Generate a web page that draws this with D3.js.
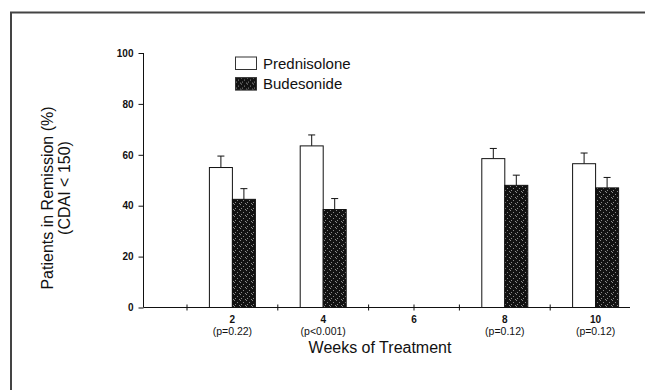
<!DOCTYPE html>
<html>
<head>
<meta charset="utf-8">
<script src="https://cdn.jsdelivr.net/npm/d3@7"></script>
<style>
  html, body { margin: 0; padding: 0; background: #fff; overflow: hidden; }
  svg { display: block; }
  text { font-family: "Liberation Sans", Arial, sans-serif; fill: #111; }
</style>
</head>
<body>
<svg id="chart" width="645" height="390"></svg>
<script>
// ---- data ----
const weeks = ["2", "4", "6", "8", "10"];
const pLabels = ["(p=0.22)", "(p<0.001)", "", "(p=0.12)", "(p=0.12)"];
const prednisolone = [55, 63.5, null, 58.5, 56.5];
const prednisoloneErr = [4.5, 4.3, null, 4.0, 4.2];
const budesonide = [42.5, 38.5, null, 48, 47];
const budesonideErr = [4.2, 4.3, null, 4.0, 4.1];
const yTicks = [0, 20, 40, 60, 80, 100];
const seriesNames = ["Prednisolone", "Budesonide"];

const svg = d3.select("#chart");

// stipple pattern for the dark bars
const defs = svg.append("defs");
const pat = defs.append("pattern").attr("id", "stipple")
  .attr("width", 6).attr("height", 6).attr("patternUnits", "userSpaceOnUse");
pat.append("rect").attr("width", 6).attr("height", 6).attr("fill", "#121212");
[[0,0],[3,2],[1,4],[5,5]].forEach(([dx,dy]) =>
  pat.append("rect").attr("x", dx).attr("y", dy).attr("width", 1).attr("height", 1).attr("fill", "#8a8a8a"));

// frame (open on right / bottom)
svg.append("path").attr("d", "M11,392 V12.5 H647")
  .attr("fill", "none").attr("stroke", "#444").attr("stroke-width", 2);

// scales
const x = d3.scaleBand().domain(weeks).range([187, 641]).padding(0);
const y = d3.scaleLinear().domain([0, 100]).range([307.5, 53]);
const axisX0 = 143.5, axisX1 = 630;
const barW = 23;

// y axis
const yAxis = svg.append("g").attr("transform", `translate(${axisX0},0)`)
  .call(d3.axisLeft(y).tickValues(yTicks).tickSize(5).tickPadding(5).tickFormat(d3.format("d")));
yAxis.select(".domain").attr("stroke", "#111").attr("d", `M0,${y(100)}V${y(0)}`);
yAxis.selectAll(".tick line").attr("stroke", "#111");
yAxis.selectAll(".tick text").style("font-size", "10px").style("font-weight", "bold")
  .style("font-family", "Liberation Sans, Arial, sans-serif").attr("fill", "#111");

// x axis baseline
svg.append("line").attr("x1", axisX0).attr("x2", axisX1)
  .attr("y1", y(0)).attr("y2", y(0)).attr("stroke", "#111").attr("stroke-width", 1.2);

// boundary ticks
const bounds = weeks.map(w => x(w)).filter(v => v < axisX1);
svg.selectAll(".btick").data(bounds).join("line")
  .attr("x1", d => d).attr("x2", d => d)
  .attr("y1", y(0) - 3).attr("y2", y(0) + 3)
  .attr("stroke", "#111");

// x axis labels via axisBottom
const xAxis = svg.append("g").attr("transform", `translate(0,${y(0)})`)
  .call(d3.axisBottom(x).tickSize(0).tickPadding(8));
xAxis.select(".domain").remove();
xAxis.selectAll(".tick text").style("font-size", "10px").style("font-weight", "bold")
  .style("font-family", "Liberation Sans, Arial, sans-serif").attr("fill", "#111");
xAxis.selectAll(".tick").append("text")
  .attr("y", 20).attr("dy", "0.71em").attr("text-anchor", "middle")
  .style("font-size", "10.5px").style("font-family", "Liberation Sans, Arial, sans-serif")
  .attr("fill", "#111")
  .text((d, i) => pLabels[i]);

// center ticks for empty categories
svg.selectAll(".ctick").data(weeks.filter((w, i) => prednisolone[i] == null)).join("line")
  .attr("x1", d => x(d) + x.bandwidth() / 2).attr("x2", d => x(d) + x.bandwidth() / 2)
  .attr("y1", y(0) - 3).attr("y2", y(0) + 3).attr("stroke", "#111");

// bars
const rows = weeks.map((w, i) => ({ w, p: prednisolone[i], pe: prednisoloneErr[i], b: budesonide[i], be: budesonideErr[i] }))
  .filter(r => r.p != null);
const cx = w => x(w) + x.bandwidth() / 2;

function errBar(g, xc, v, e) {
  g.append("line").attr("x1", xc).attr("x2", xc).attr("y1", y(v)).attr("y2", y(v + e))
    .attr("stroke", "#111").attr("stroke-width", 1);
  g.append("line").attr("x1", xc - 3.5).attr("x2", xc + 3.5).attr("y1", y(v + e)).attr("y2", y(v + e))
    .attr("stroke", "#111").attr("stroke-width", 1);
}

const gBars = svg.append("g");
rows.forEach(r => {
  const c = cx(r.w);
  errBar(gBars, c - barW / 2, r.p, r.pe);
  errBar(gBars, c + barW / 2, r.b, r.be);
  gBars.append("rect").attr("x", c - barW).attr("y", y(r.p)).attr("width", barW).attr("height", y(0) - y(r.p))
    .attr("fill", "#fff").attr("stroke", "#111").attr("stroke-width", 1);
  gBars.append("rect").attr("x", c).attr("y", y(r.b)).attr("width", barW).attr("height", y(0) - y(r.b))
    .attr("fill", "url(#stipple)").attr("stroke", "#111").attr("stroke-width", 1);
});

// legend
const leg = svg.append("g").attr("transform", "translate(235,57)");
seriesNames.forEach((name, i) => {
  const g = leg.append("g").attr("transform", `translate(0,${i * 20.6})`);
  g.append("rect").attr("x", 0.5).attr("y", 0).attr("width", 21).attr("height", 12.5)
    .attr("fill", i === 0 ? "#fff" : "url(#stipple)").attr("stroke", "#333").attr("stroke-width", 1);
  g.append("text").attr("x", 28).attr("y", 6.3).attr("dy", "0.35em")
    .style("font-size", "15px").text(name);
});

// axis titles
svg.append("text").attr("x", 380).attr("y", 347).attr("dy", "0.35em").attr("text-anchor", "middle")
  .style("font-size", "16px").text("Weeks of Treatment");
svg.append("text").attr("transform", "translate(47,198) rotate(-90)").attr("dy", "0.35em")
  .attr("text-anchor", "middle").style("font-size", "16px").text("Patients in Remission (%)");
svg.append("text").attr("transform", "translate(64,188) rotate(-90)").attr("dy", "0.35em")
  .attr("text-anchor", "middle").style("font-size", "16px").text("(CDAI < 150)");
</script>
</body>
</html>
